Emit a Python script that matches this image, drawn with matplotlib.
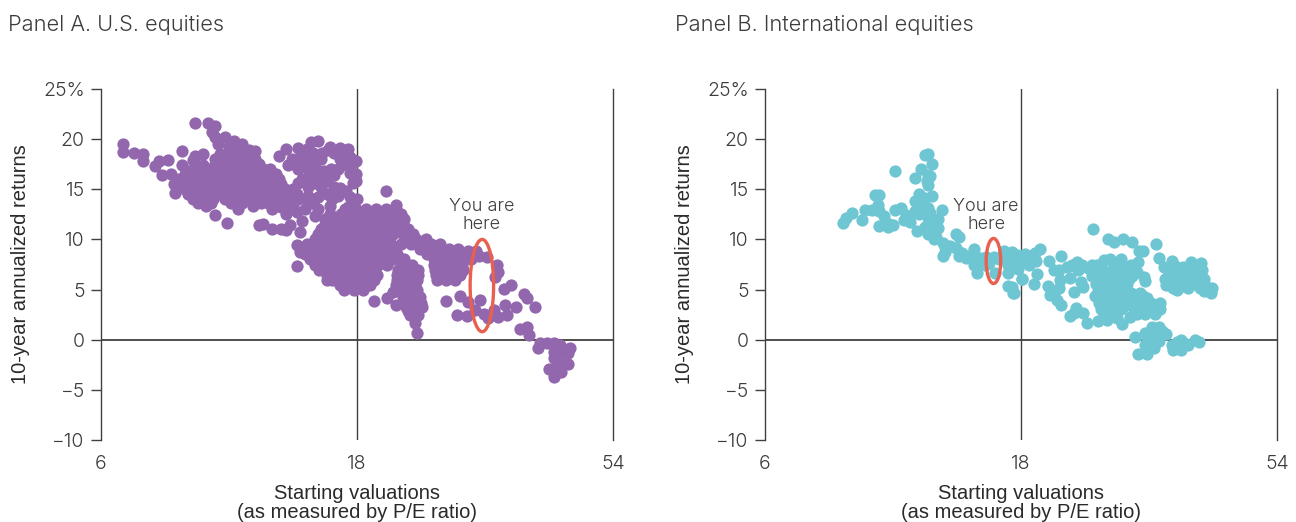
import matplotlib
matplotlib.use('Agg')
import matplotlib.pyplot as plt
from matplotlib.patches import Ellipse

plt.rcParams['font.family'] = ['Inter', 'DejaVu Sans']

# values: (starting P/E, 10-year annualized return %)
us_left_arm = [(6.6, 19.5), (6.6, 18.7), (6.9, 18.6), (7.2, 18.5), (7.2, 17.8), (7.55, 17.3), (7.7, 17.8),
               (8.0, 17.9), (7.8, 16.4), (8.1, 16.5), (8.25, 14.6), (8.5, 18.8), (9.0, 21.6), (9.5, 21.6),
               (9.8, 21.3), (9.65, 20.7), (9.8, 20.2), (10.2, 20.2), (10.6, 19.8), (11.0, 19.5), (11.6, 18.8),
               (10.4, 19.2), (10.9, 19.0), (11.3, 18.9), (9.9, 19.5), (9.0, 18.3), (9.3, 18.5), (8.9, 17.9)]
us_left_body = [(9.8, 18), (10.2, 18), (10.7, 18), (11.2, 18), (11.6, 18), (8.5, 17.4), (9.0, 17.4), (9.3, 17.4),
                (9.6, 17), (10.0, 17), (10.5, 17), (11.0, 17), (11.5, 17), (12.0, 17), (12.4, 17),
                (8.4, 16), (8.8, 16), (9.2, 16), (9.6, 16), (10.0, 16), (10.4, 16), (10.9, 16), (11.4, 16),
                (11.9, 16), (12.4, 16), (12.9, 16), (8.6, 15), (9.0, 15), (9.4, 15), (9.8, 15), (10.2, 15),
                (10.7, 15), (11.2, 15), (11.7, 15), (12.2, 15), (12.7, 15), (13.2, 15), (13.7, 15),
                (8.9, 14), (9.3, 14), (9.7, 14), (10.2, 14), (10.7, 14), (11.2, 14), (11.6, 14), (12.0, 14),
                (12.5, 14), (13.0, 14), (13.5, 14), (14.0, 14), (14.5, 14), (9.4, 13.3), (10.8, 13.0),
                (11.5, 13.3), (12.5, 13.0), (13.0, 13.2)]
us_left_fill = [(10.0, 18.5), (10.5, 18.5), (11.0, 18.5), (9.8, 17.5), (10.3, 17.5), (10.8, 17.5), (11.3, 17.5), (11.8, 17.5),
                (8.7, 16.8), (9.1, 16.8), (8.6, 16.5), (9.0, 16.5), (9.4, 16.5), (9.8, 16.5), (10.2, 16.5), (10.7, 16.5),
                (11.2, 16.5), (11.7, 16.5), (12.2, 16.5), (12.7, 16.5), (8.2, 15.5), (8.5, 15.5), (8.8, 15.5), (9.2, 15.5),
                (9.6, 15.5), (10.0, 15.5), (10.5, 15.5), (11.0, 15.5), (11.5, 15.5), (12.0, 15.5), (12.5, 15.5), (13.0, 15.5),
                (8.7, 14.5), (9.2, 14.5), (9.6, 14.5), (10.0, 14.5), (10.5, 14.5), (11.0, 14.5), (11.4, 14.5), (11.9, 14.5),
                (12.4, 14.5), (12.9, 14.5), (13.4, 14.5), (13.9, 14.5), (9.1, 13.6), (9.6, 13.6), (10.5, 13.6), (11.0, 13.6),
                (11.9, 13.6), (12.3, 13.6), (12.8, 13.6), (13.3, 13.6)]
us_strays = [(9.8, 12.4), (10.3, 11.6), (11.8, 11.4), (12.0, 11.5), (12.5, 11.0), (13.0, 11.0), (13.3, 10.9),
             (13.5, 11.4), (14.1, 10.7), (13.9, 7.4), (15.8, 6.0), (13.9, 9.4), (14.1, 8.7)]
us_upper_blob = [(12.9, 18.3), (13.3, 19.0), (14.0, 19.1), (14.8, 19.7), (15.2, 19.8), (16.0, 19.2), (16.7, 19.1),
                 (17.3, 19.0), (17.9, 17.8), (17.5, 17.3), (14.5, 19), (15.9, 18.9), (13.6, 18), (14.0, 18),
                 (14.5, 18), (15.0, 18), (15.4, 18), (16.7, 18), (17.6, 18), (13.4, 17.4), (14.0, 17), (14.6, 17),
                 (15.1, 17), (16.1, 17), (16.6, 17), (17.2, 17.6), (14.2, 16), (14.7, 16), (15.3, 16), (15.9, 16.2),
                 (16.3, 16.4), (14.3, 18.5), (14.9, 18.6), (15.5, 18.6), (16.3, 18.6), (16.9, 18.5), (17.4, 18.3),
                 (16.9, 17.4), (17.5, 16.6), (14.3, 17.4), (14.9, 17.4), (15.6, 16.8)]
us_mid_band = [(15.0, 15.6), (15.8, 15.8), (14.0, 15.6), (14.6, 14.3), (15.2, 14.2), (16.0, 13.3), (16.6, 14.3),
               (16.7, 15.1), (17.3, 13.2), (17.9, 15.8), (18.0, 14.0), (15.2, 13.0), (13.9, 12.7), (13.3, 12.5),
               (14.2, 11.8), (15.0, 12.3), (17.7, 15.6), (17.9, 16.5), (20.4, 14.8), (21.3, 13.4), (14.6, 15.2),
               (15.4, 15.2), (16.3, 15.2), (17.2, 14.8), (17.5, 14.2), (16.2, 14.0), (14.9, 13.6), (15.8, 14.5),
               (13.7, 13.4), (14.4, 13.0)]
us_center = [(17.1, 13), (17.9, 13), (18.7, 13), (19.5, 13), (20.4, 13), (21.3, 13), (15.7, 12), (16.4, 12), (17.1, 12),
             (17.9, 12), (18.7, 12), (19.5, 12), (20.4, 12), (21.3, 12), (22.0, 12), (15.4, 11), (16.1, 11),
             (16.8, 11), (17.5, 11), (18.2, 11), (18.9, 11), (19.7, 11), (20.5, 11), (21.4, 11), (22.4, 11),
             (15.0, 10), (15.7, 10), (16.4, 10), (17.1, 10), (17.9, 10), (18.7, 10), (19.5, 10), (20.4, 10),
             (22.2, 10), (23.2, 10), (24.2, 10), (14.2, 9), (14.8, 9), (15.5, 9), (16.2, 9), (17.0, 9), (17.8, 9),
             (18.6, 9), (19.4, 9), (20.2, 9), (21.1, 9), (23.6, 9), (24.6, 9), (25.6, 9), (26.7, 9), (27.8, 9),
             (14.7, 8), (15.4, 8), (16.1, 8), (16.9, 8), (17.7, 8), (18.5, 8), (19.3, 8), (20.1, 8), (21.0, 8),
             (22.0, 8), (25.0, 8), (26.0, 8), (27.0, 8), (28.2, 8), (29.4, 8), (15.3, 7), (16.0, 7), (16.8, 7),
             (17.6, 7), (18.4, 7), (19.2, 7), (21.5, 7), (22.4, 7), (23.4, 7), (25.2, 7), (26.2, 7), (27.3, 7),
             (28.4, 7), (16.2, 6), (17.0, 6), (17.8, 6), (18.6, 6), (19.4, 6), (21.4, 6), (22.3, 6), (23.3, 6),
             (25.4, 6), (26.4, 6), (27.4, 6), (17.0, 5), (17.8, 5), (18.5, 5), (21.5, 5), (22.4, 5), (23.3, 5)]
us_center_fill = [(16.0, 12.5), (16.8, 12.5), (17.5, 12.5), (18.3, 12.5), (19.1, 12.5), (20.0, 12.5), (20.9, 12.5), (21.7, 12.5),
                  (15.7, 11.5), (16.4, 11.5), (17.2, 11.5), (17.9, 11.5), (18.6, 11.5), (19.3, 11.5), (20.1, 11.5), (21.0, 11.5),
                  (21.9, 11.5), (15.2, 10.5), (15.9, 10.5), (16.6, 10.5), (17.3, 10.5), (18.0, 10.5), (18.7, 10.5), (19.4, 10.5),
                  (20.2, 10.5), (21.0, 10.5), (21.9, 10.5), (22.9, 10.5), (14.5, 9.5), (15.2, 9.5), (15.9, 9.5), (16.7, 9.5),
                  (17.5, 9.5), (18.3, 9.5), (19.0, 9.5), (19.9, 9.5), (20.8, 9.5), (21.7, 9.5), (22.7, 9.5), (23.7, 9.5),
                  (24.7, 9.5), (25.7, 9.5), (14.4, 8.5), (15.0, 8.5), (15.8, 8.5), (16.6, 8.5), (17.3, 8.5), (18.0, 8.5),
                  (18.9, 8.5), (19.7, 8.5), (20.6, 8.5), (21.4, 8.5), (24.3, 8.5), (25.3, 8.5), (26.4, 8.5), (27.5, 8.5),
                  (28.5, 8.5), (15.0, 7.5), (15.7, 7.5), (16.4, 7.5), (17.3, 7.5), (18.0, 7.5), (18.8, 7.5), (19.7, 7.5),
                  (20.5, 7.5), (21.8, 7.5), (22.8, 7.5), (25.1, 7.5), (26.1, 7.5), (27.2, 7.5), (28.3, 7.5), (15.8, 6.5),
                  (16.5, 6.5), (17.2, 6.5), (18.0, 6.5), (18.8, 6.5), (19.6, 6.5), (21.4, 6.5), (22.3, 6.5), (23.4, 6.5),
                  (25.3, 6.5), (26.3, 6.5), (27.4, 6.5), (28.0, 6.5), (16.7, 5.5), (17.4, 5.5), (18.1, 5.5), (19.0, 5.5),
                  (21.3, 5.5), (22.2, 5.5), (23.1, 5.5), (21.0, 4.8), (22.0, 4.8), (23.0, 4.8), (29.0, 8.8), (30.0, 8.8)]
us_lower_finger = [(21.9, 4.3), (22.8, 4.3), (23.6, 4.3), (22.2, 3.3), (23.0, 3.3), (23.8, 3.3), (22.6, 2.5), (23.4, 2.5),
                   (23.3, 0.7), (23.1, 1.7), (23.7, 3.3), (19.4, 3.9), (20.5, 4.2), (21.3, 3.5), (21.9, 3.8), (22.0, 3.7),
                   (22.9, 3.7), (23.7, 3.7), (22.4, 2.9), (23.2, 2.9)]
us_right_tail = [(26.4, 3.9), (28.0, 4.4), (27.7, 2.5), (28.8, 2.4), (29.0, 3.8), (30.5, 4.0), (29.9, 3.0), (31.0, 2.6),
                 (31.6, 2.2), (33.0, 2.3), (34.3, 2.5), (32.4, 3.0), (34.0, 3.5), (35.6, 3.3), (33.8, 5.1), (34.8, 5.5),
                 (36.9, 4.6), (37.4, 4.2), (38.7, 3.3), (36.2, 1.1), (37.4, 1.3), (37.7, 0.5), (31.4, 8.2), (30.4, 8.3),
                 (32.8, 7.5), (33.0, 6.8), (32.5, 6.3)]
us_negative = [(39.4, -0.3), (39.1, -0.8), (40.6, -0.3), (41.9, -0.3), (43.0, -0.5), (44.9, -0.8), (44.5, -1.3),
               (41.9, -1.2), (43.2, -1.3), (41.9, -1.8), (43.0, -2.2), (44.5, -2.4), (41.1, -2.9), (43.2, -3.2),
               (41.9, -3.7), (42.5, -2.7)]

intl_left = [(8.4, 11.6), (8.5, 12.1), (8.7, 12.6), (9.1, 11.9), (9.2, 12.9), (9.5, 12.9), (9.75, 13.4), (9.8, 12.8),
             (9.6, 14.4), (9.8, 14.4), (9.8, 11.3), (10.15, 11.2), (10.4, 11.4), (10.5, 12.95), (10.75, 13.1),
             (10.9, 11.95), (11.1, 12.1), (11.4, 12.8), (11.2, 11.7), (11.5, 10.8), (11.4, 13.8), (11.6, 14.5),
             (11.9, 14.1), (12.3, 14.3), (11.9, 13.1), (12.1, 13.1), (12.2, 12.6), (12.8, 12.9), (12.1, 11.5),
             (12.4, 11.5), (12.1, 12.1), (12.6, 12.0), (12.1, 10.5), (12.4, 10.0), (12.9, 9.6), (10.0, 12.3),
             (10.2, 11.5), (11.0, 12.4), (11.6, 12.5), (11.7, 13.3), (11.9, 11.2), (12.2, 11.0), (12.6, 11.1),
             (12.5, 10.2), (13.0, 9.2)]
intl_top = [(11.9, 18.4), (12.1, 18.5), (12.3, 17.5), (10.5, 16.8), (11.7, 17.0), (11.4, 16.1), (12.1, 16.4), (12.2, 16.3),
            (12.0, 15.8), (12.1, 15.4)]
intl_neck = [(13.6, 10.5), (13.8, 10.2), (13.0, 8.7), (12.9, 8.3), (13.3, 9.3), (13.6, 9.1), (13.8, 8.3), (14.2, 8.1),
             (14.7, 9.0), (14.4, 8.3), (14.9, 7.8), (14.7, 7.5), (14.9, 6.7), (15.4, 7.5), (15.5, 8.2), (16.0, 8.2),
             (16.1, 6.7), (16.7, 8.8), (17.3, 8.7), (16.8, 8.1), (17.3, 8.0), (17.0, 6.7), (17.6, 7.6), (18.1, 8.1),
             (18.1, 6.1), (17.0, 5.4), (17.4, 4.7), (17.3, 8.5), (17.4, 7.6), (18.3, 8.5), (18.1, 7.9), (18.8, 8.3),
             (19.5, 9.0), (19.1, 8.6), (17.8, 7.1), (19.3, 6.6), (18.1, 6.1), (19.0, 5.6), (17.5, 4.7), (17.3, 5.3),
             (14.0, 8.6), (15.1, 8.1), (15.7, 7.6), (16.4, 8.0), (17.0, 7.5), (17.7, 8.4), (18.6, 7.5), (18.4, 8.0),
             (19.2, 7.8)]
intl_band = [(20.3, 7.8), (21.4, 8.3), (20.7, 7.0), (21.2, 7.0), (21.9, 7.3), (22.9, 7.7), (23.0, 7.0), (24.0, 7.2),
             (24.9, 7.5), (25.7, 7.9), (26.4, 8.0), (27.7, 8.0), (27.9, 7.3), (25.1, 6.8), (26.2, 6.8), (27.5, 6.8),
             (28.6, 6.6), (29.6, 6.8), (29.7, 7.7), (30.5, 6.3), (30.6, 5.9), (28.6, 6.1), (25.2, 6.0), (26.5, 6.0),
             (21.3, 6.0), (22.2, 6.2), (23.3, 5.8), (23.5, 5.3), (20.2, 5.4), (21.2, 5.2), (22.6, 4.8), (20.7, 4.7),
             (20.4, 4.5), (21.4, 3.5), (21.0, 4.0), (24.7, 4.4), (22.4, 7.5), (23.4, 7.5), (24.4, 7.5), (25.4, 7.5),
             (26.8, 7.5), (27.2, 7.5), (28.8, 7.5), (24.4, 6.4), (25.6, 6.4), (26.8, 6.4), (28.0, 6.4), (29.0, 6.4)]
intl_blob = [(26.0, 5.2), (26.8, 5.2), (27.8, 5.2), (25.4, 4.7), (26.5, 4.7), (27.7, 4.7), (28.9, 4.7), (30.0, 4.7),
             (25.2, 4.2), (26.2, 4.2), (27.5, 4.2), (28.6, 4.2), (29.9, 4.2), (30.9, 4.2), (25.2, 3.7), (26.3, 3.7),
             (27.6, 3.7), (28.7, 3.7), (30.0, 3.7), (31.5, 3.7), (32.7, 3.7), (25.4, 3.1), (26.5, 3.1), (27.6, 3.1),
             (29.2, 3.1), (30.5, 3.1), (31.6, 3.1), (32.7, 3.1), (25.7, 2.6), (29.6, 2.6), (30.6, 2.6), (32.0, 2.6),
             (24.8, 5.6), (26.0, 5.6), (27.2, 5.6), (28.4, 5.6), (25.0, 4.9), (26.2, 4.9), (27.2, 4.9), (25.8, 4.4),
             (26.9, 4.4), (28.0, 4.4), (29.2, 4.4), (30.4, 4.4), (25.8, 3.4), (27.0, 3.4), (28.0, 3.4), (29.5, 3.4),
             (31.0, 3.4), (32.0, 3.4), (26.0, 2.8), (26.7, 2.8)]
intl_low_band = [(22.2, 2.4), (22.8, 3.2), (23.5, 2.7), (23.9, 1.7), (25.0, 1.9), (26.0, 2.0), (27.2, 2.2), (27.8, 1.6),
                 (28.7, 2.3), (22.6, 2.7)]
intl_right = [(26.1, 10.0), (26.8, 9.7), (27.9, 10.0), (29.0, 9.7), (24.5, 11.0), (32.1, 9.5), (29.9, 8.8), (30.4, 8.8),
              (32.5, 8.1), (34.4, 7.8), (37.4, 7.7), (38.9, 7.6), (36.1, 7.3), (33.3, 7.3), (39.1, 7.0), (37.9, 7.0),
              (33.9, 6.7), (35.2, 6.3), (37.6, 6.3), (39.5, 6.1), (33.5, 5.5), (35.2, 5.0), (36.8, 5.2), (38.4, 5.7),
              (39.7, 5.5), (40.6, 4.7), (40.8, 5.2), (36.3, 5.8), (34.9, 5.6), (34.9, 7.4), (35.6, 7.0), (36.4, 6.7),
              (37.0, 7.4), (38.2, 6.6), (38.8, 6.4), (34.0, 6.0), (36.0, 5.4), (37.6, 5.6), (38.8, 5.2), (39.4, 4.9),
              (33.4, 6.1), (34.5, 5.2)]
intl_bottom = [(29.4, 0.3), (30.6, 0.7), (31.6, 1.3), (32.5, 1.3), (33.6, 0.6), (32.0, 0.5), (30.9, 0.0), (32.5, -0.1),
               (30.6, -0.5), (31.8, -0.8), (29.7, -1.4), (30.9, -1.4), (34.4, -0.5), (35.8, 0.0), (34.6, -1.0),
               (35.8, -1.0), (36.8, -0.5), (37.9, 0.0), (38.6, -0.2), (35.2, -0.2), (31.0, 0.6), (31.6, 0.2), (31.0, -0.8),
               (32.0, -0.2), (33.0, 0.9), (35.0, -0.7), (36.3, -0.3)]

us_points = (us_left_arm + us_left_body + us_left_fill + us_strays + us_upper_blob + us_mid_band + us_center
             + us_center_fill + us_lower_finger + us_right_tail + us_negative)
intl_points = intl_left + intl_top + intl_neck + intl_band + intl_blob + intl_low_band + intl_right + intl_bottom

x_ticks = [6, 18, 54]
y_ticks = [-10, -5, 0, 5, 10, 15, 20, 25]
y_labels = ['\u221210', '\u22125', '0', '5', '10', '15', '20', '25%']

W, H = 1296, 522
TEXT = '#3c3c3c'
DARK = '#2a2a2a'
LINE = '#404040'
RED = '#e8604f'
LABEL_FONT = ['Liberation Sans', 'DejaVu Sans']


def draw_panel(left_px, title, title_px, points, color, ellipse, note_xy):
    ax = fig.add_axes([left_px / W, (H - 440) / H, 512 / W, 351 / H])
    ax.set_xscale('log')
    ax.set_xlim(6, 54)
    ax.set_ylim(-10, 25)

    ax.scatter([p[0] for p in points], [p[1] for p in points], s=78, color=color, linewidths=0, zorder=3)

    # cross lines, the bottom and top of the box stay open
    ax.axhline(0, color=LINE, lw=1.3, zorder=2)
    ax.axvline(18, color=LINE, lw=1.0, zorder=2)
    ax.spines['top'].set_visible(False)
    ax.spines['bottom'].set_visible(False)
    for side in ['left', 'right']:
        ax.spines[side].set_color(LINE)
        ax.spines[side].set_linewidth(1.0)

    ax.set_xticks(x_ticks)
    ax.set_xticklabels([str(t) for t in x_ticks])
    ax.minorticks_off()
    ax.set_yticks(y_ticks)
    ax.set_yticklabels(y_labels)
    ax.tick_params(axis='x', labelsize=14, colors=TEXT, length=0, pad=11)
    ax.tick_params(axis='y', labelsize=14, colors=TEXT, length=7.2, width=1, color=LINE, pad=4.5)
    for lab in ax.get_xticklabels() + ax.get_yticklabels():
        lab.set_fontweight(300)

    ax.set_ylabel('10-year annualized returns', fontsize=14.5, color=DARK, family=LABEL_FONT)
    ax.yaxis.set_label_coords(-71 / 512, 0.5)
    ax.set_xlabel('Starting valuations\n(as measured by P/E ratio)', fontsize=14.5, color=DARK,
                  family=LABEL_FONT, labelpad=8, linespacing=0.95)

    ax.add_patch(Ellipse(ellipse[:2], ellipse[2], ellipse[3], fill=False, edgecolor=RED, lw=2.4, zorder=4))
    ax.text(note_xy[0], note_xy[1], 'You are\nhere', ha='center', va='bottom', fontsize=13, color=TEXT,
            fontweight=300, linespacing=1.1, zorder=5)
    fig.text(title_px / W, (H - 25) / H, title, ha='left', va='center', fontsize=15.7, color=TEXT, fontweight=300)


fig = plt.figure(figsize=(W / 100, H / 100), dpi=100)
draw_panel(101, 'Panel A. U.S. equities', 8, us_points, '#9367ad', (30.8, 5.4, 3.1, 9.2), (30.7, 10.6))
draw_panel(765, 'Panel B. International equities', 675, intl_points, '#6fc6d3', (16.0, 7.85, 1.0, 4.5), (15.5, 10.6))
fig.savefig('out.png', dpi=100)
